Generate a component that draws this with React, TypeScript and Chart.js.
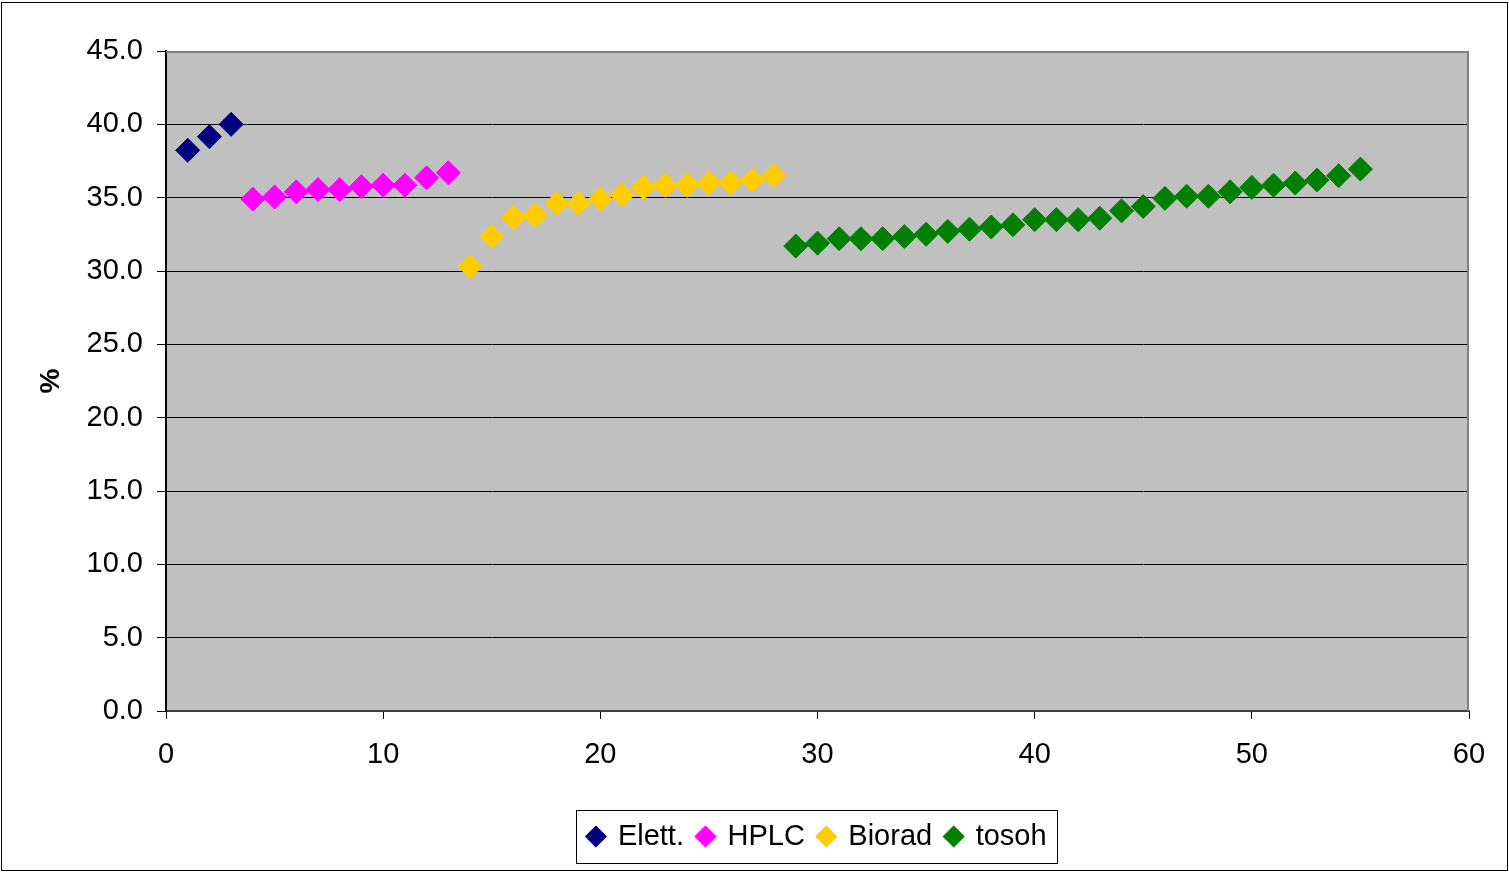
import React, { useEffect, useRef } from "react";
import { Chart, registerables } from "chart.js";

Chart.register(...registerables);

// Sample indices (x) and measured values (%) per method
const elettX = [1, 2, 3];
const elettY = [38.23, 39.16, 40.0];

const hplcX = [4, 5, 6, 7, 8, 9, 10, 11, 12, 13];
const hplcY = [34.9, 35.05, 35.4, 35.55, 35.55, 35.75, 35.85, 35.85, 36.35, 36.7];

const bioradX = [14, 15, 16, 17, 18, 19, 20, 21, 22, 23, 24, 25, 26, 27, 28];
const bioradY = [30.3, 32.35, 33.65, 33.8, 34.6, 34.6, 34.9, 35.2, 35.7, 35.85, 35.85, 36.0, 36.0, 36.2, 36.5];

const tosohX = [29, 30, 31, 32, 33, 34, 35, 36, 37, 38, 39, 40, 41, 42, 43, 44, 45, 46, 47, 48, 49, 50, 51, 52, 53, 54, 55];
const tosohY = [31.7, 31.9, 32.2, 32.2, 32.2, 32.35, 32.5, 32.7, 32.85, 33.0, 33.15, 33.5, 33.5, 33.5, 33.6, 34.1, 34.4, 34.95, 35.1, 35.1, 35.4, 35.7, 35.85, 36.0, 36.2, 36.5, 36.95];

const seriesNames = ["Elett.", "HPLC", "Biorad", "tosoh"];
const seriesColors = ["#000080", "#FF00FF", "#FFCC00", "#008000"];

const yMin = 0;
const yMax = 45;
const yStep = 5;
const xMin = 0;
const xMax = 60;
const xStep = 10;
const yTitle = "%";

const FONT = "'Liberation Sans', Arial, sans-serif";

function pts(xs: number[], ys: number[]) {
  return xs.map((x, i) => ({ x, y: ys[i] }));
}

const framePlugin = {
  id: "frame",
  beforeDraw(chart: any) {
    const { ctx, chartArea: a } = chart;
    ctx.save();
    ctx.fillStyle = "#ffffff";
    ctx.fillRect(0, 0, chart.width, chart.height);
    ctx.fillStyle = "#C0C0C0";
    ctx.fillRect(a.left, a.top, a.right - a.left, a.bottom - a.top);
    ctx.restore();
  },
  afterDraw(chart: any) {
    const { ctx, chartArea: a } = chart;
    ctx.save();
    // plot area top/right border
    ctx.strokeStyle = "#808080";
    ctx.lineWidth = 2;
    ctx.beginPath();
    ctx.moveTo(a.left, a.top + 1);
    ctx.lineTo(a.right - 1, a.top + 1);
    ctx.lineTo(a.right - 1, a.bottom);
    ctx.stroke();
    // legend border
    const lg = chart.legend;
    if (lg && lg.legendHitBoxes && lg.legendHitBoxes.length) {
      const hb = lg.legendHitBoxes;
      const l = Math.min(...hb.map((h: any) => h.left));
      const r = Math.max(...hb.map((h: any) => h.left + h.width));
      const cy = hb[0].top + hb[0].height / 2;
      ctx.strokeStyle = "#000";
      ctx.lineWidth = 1;
      ctx.strokeRect(Math.round(l - 12) + 0.5, Math.round(cy - 26.5) + 0.5, Math.round(r - l + 23), 53);
    }
    // outer border
    ctx.strokeStyle = "#000";
    ctx.lineWidth = 1;
    ctx.strokeRect(1.5, 2.5, chart.width - 3, chart.height - 4);
    ctx.restore();
  },
};

export default function App() {
  const ref = useRef<HTMLCanvasElement | null>(null);

  useEffect(() => {
    if (!ref.current) return;
    const data = [pts(elettX, elettY), pts(hplcX, hplcY), pts(bioradX, bioradY), pts(tosohX, tosohY)];
    const chart = new Chart(ref.current, {
      type: "scatter",
      data: {
        datasets: data.map((d, i) => ({
          label: seriesNames[i],
          data: d,
          backgroundColor: seriesColors[i],
          borderColor: seriesColors[i],
          borderWidth: 1,
          pointStyle: "rectRot",
          pointRadius: 12,
          pointHoverRadius: 12,
        })),
      },
      options: {
        responsive: false,
        animation: false,
        devicePixelRatio: 1,
        layout: { padding: { left: 0, right: 40, top: 51, bottom: 11 } },
        plugins: {
          tooltip: { enabled: false },
          legend: {
            position: "bottom",
            fullSize: false,
            labels: {
              usePointStyle: true,
              boxWidth: 15,
              boxHeight: 15,
              padding: 14,
              color: "#000",
              font: { family: FONT, size: 29 },
            },
          },
        },
        scales: {
          x: {
            type: "linear",
            min: xMin,
            max: xMax,
            afterFit: (s: any) => {
              s.height = 97;
            },
            ticks: {
              stepSize: xStep,
              padding: 19,
              color: "#000",
              font: { family: FONT, size: 29 },
              maxRotation: 0,
            },
            grid: {
              drawOnChartArea: false,
              drawTicks: true,
              tickLength: 8,
              tickColor: "#000",
              color: "#000",
            },
            border: { color: "#404040", width: 2 },
          },
          y: {
            type: "linear",
            min: yMin,
            max: yMax,
            afterFit: (s: any) => {
              s.width = 166;
            },
            ticks: {
              stepSize: yStep,
              padding: 14,
              color: "#000",
              font: { family: FONT, size: 29 },
              callback: (v: any) => Number(v).toFixed(1),
            },
            grid: {
              color: (c: any) => (c.tick && c.tick.value === yMax ? "rgba(0,0,0,0)" : "#000000"),
              lineWidth: 1,
              tickLength: 9,
              tickColor: "#000",
            },
            border: { color: "#000", width: 2 },
            title: {
              display: true,
              text: yTitle,
              color: "#000",
              font: { family: FONT, size: 28, weight: "bold" },
              padding: { top: 34, bottom: 0 },
            },
          },
        },
      },
      plugins: [framePlugin],
    });
    return () => chart.destroy();
  }, []);

  return (
    <div style={{ position: "fixed", left: 0, top: 0, width: 1509, height: 872, background: "#fff" }}>
      <canvas ref={ref} width={1509} height={872} style={{ width: 1509, height: 872, display: "block" }} />
    </div>
  );
}
